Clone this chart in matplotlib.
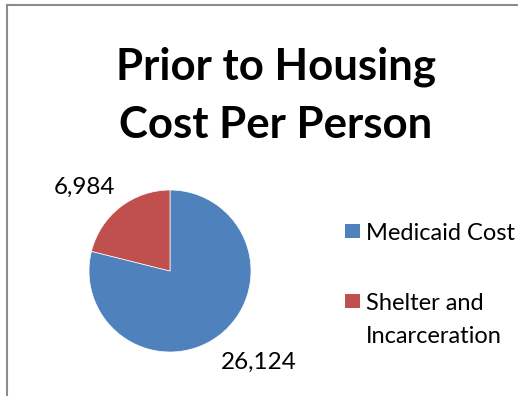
import matplotlib
matplotlib.use('Agg')
import matplotlib.pyplot as plt
from matplotlib.lines import Line2D
from matplotlib.patches import Rectangle

# datos del grafico
categorias = ['Medicaid Cost', 'Shelter and\nIncarceration']
valores = [26124, 6984]
colores = ['#4f81bd', '#c0504d']

plt.rcParams['font.family'] = ['Lato', 'DejaVu Sans']

W, H = 518, 396
fig = plt.figure(figsize=(W / 100, H / 100), dpi=100)

# borde gris del area del grafico (solo arriba e izquierda visibles)
fig.add_artist(Line2D([7 / W, 1], [1 - 5 / H, 1 - 5 / H], color='#8c8c8c', lw=1.5))
fig.add_artist(Line2D([7 / W, 7 / W], [0, 1 - 5 / H], color='#8c8c8c', lw=1.5))

# titulo
fig.text(276 / W, 1 - 67 / H, 'Prior to Housing', ha='center', va='center',
         fontsize=31.5, fontweight='bold')
fig.text(276 / W, 1 - 125 / H, 'Cost Per Person', ha='center', va='center',
         fontsize=31.5, fontweight='bold')

# pastel
cx, cy, r = 170, 271, 81
ax = fig.add_axes([(cx - r) / W, (H - cy - r) / H, 2 * r / W, 2 * r / H])
wedges, _ = ax.pie(valores, colors=colores, startangle=90, counterclock=False,
                   wedgeprops=dict(edgecolor='white', linewidth=0.5))
# etiquetas de valores (posiciones tipo "outside end" de Excel)
pos_etiquetas = [(1.10, -1.13), (-1.05, 1.03)]
for v, (x, y) in zip(valores, pos_etiquetas):
    ax.text(x, y, f'{v:,}', ha='center', va='center', fontsize=17.5)
ax.set_xlim(-1, 1)
ax.set_ylim(-1, 1)
ax.set_aspect('equal')

# leyenda manual (el cuadro alineado con la primera linea del texto)
filas_y = [231, 301]
for cat, col, yc in zip(categorias, colores, filas_y):
    fig.add_artist(Rectangle((345 / W, 1 - (yc + 7) / H), 15 / W, 14 / H,
                             transform=fig.transFigure, facecolor=col, edgecolor='none'))
    fig.text(366 / W, 1 - (yc + 9) / H, cat.split('\n')[0], ha='left', va='baseline',
             fontsize=17)
    for i, linea in enumerate(cat.split('\n')[1:], start=1):
        fig.text(366 / W, 1 - (yc + 9 + 33 * i) / H, linea, ha='left', va='baseline',
                 fontsize=17)

fig.savefig('out.png', dpi=100)
